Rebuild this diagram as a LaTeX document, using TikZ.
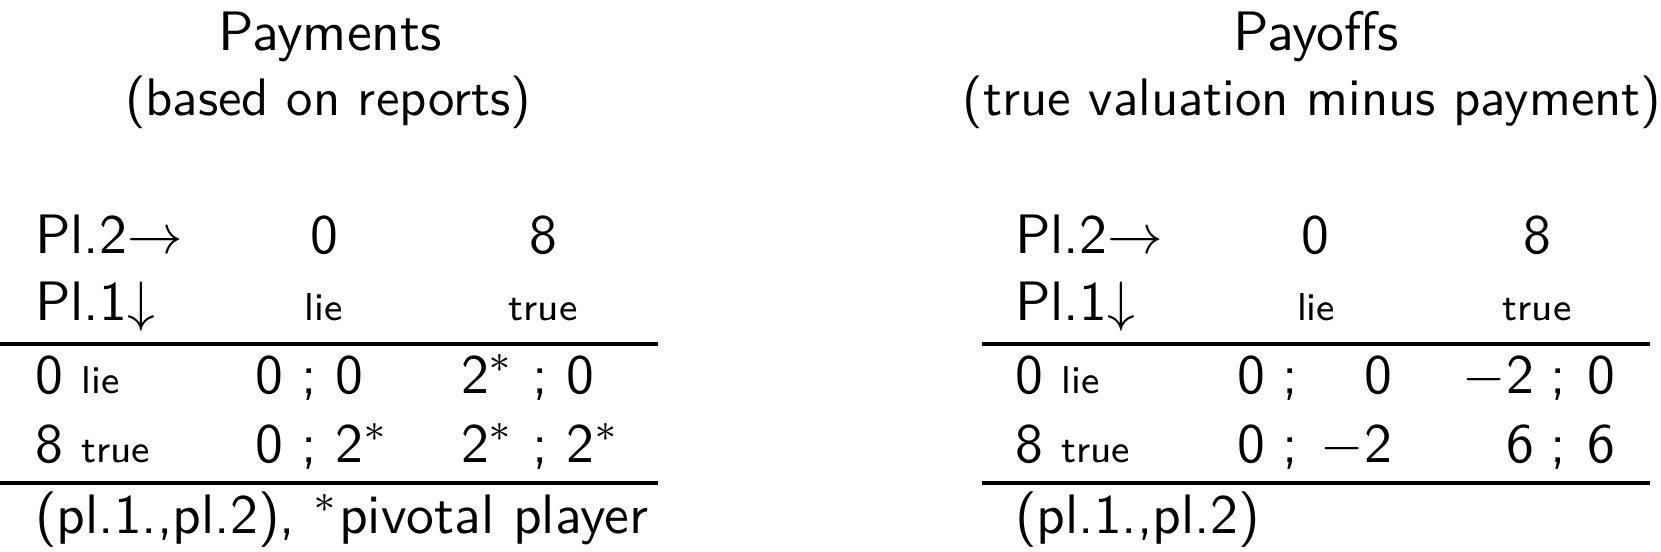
\documentclass[tikz,border=0pt]{standalone}
\usepackage{amsmath}
\usepackage{amssymb}
\usepackage{tikz}

\begin{document}
\begin{tikzpicture}[x=0.18pt,y=-0.18pt,
        every node/.style={font=\sffamily,inner sep=0pt},
        lbl/.style={anchor=base west},
        num/.style={anchor=base},
        rnum/.style={anchor=base east},
        sub/.style={anchor=base,font=\sffamily\fontsize{9.5}{11}\selectfont},
        sml/.style={anchor=base,font=\sffamily\scriptsize},
        rule/.style={line width=0.72pt}]
                \useasboundingbox (0,0) rectangle (1661,551);
                % titles
                \node [num] (ttlA) at (330,50) {Payments};
                \node [sub] (subA) at (328,115) {(based on reports)};
                \node [num] (ttlB) at (1316,50) {Payoffs};
                \node [sub] (subB) at (1312,115) {(true valuation minus payment)};
                % payments
                \node [lbl] (plA2) at (34,253) {Pl.2$\rightarrow$};
                \node [lbl] (plA1) at (34,320) {Pl.1$\downarrow$};
                \node [num] (colA0) at (324,253) {0};
                \node [num] (colA8) at (543,253) {8};
                \node [sml] (colAl) at (324,320) {lie};
                \node [sml] (colAt) at (543,320) {true};
                \node [lbl] (rowA0) at (34,393) {0 {\scriptsize lie}};
                \node [lbl] (rowA8) at (34,462) {8 {\scriptsize true}};
                \node [lbl] (pA00) at (254,393) {0 ; 0};
                \node [lbl] (pA08) at (460,393) {2$^*$ ; 0};
                \node [lbl] (pA80) at (254,462) {0 ; 2$^*$};
                \node [lbl] (pA88) at (460,462) {2$^*$ ; 2$^*$};
                \node [lbl] (ftA) at (34,533) {(pl.1.,pl.2), $^*$pivotal player};
                \coordinate (tA1) at (0,344);
                \coordinate (tA2) at (658,344);
                \coordinate (bA1) at (0,483);
                \coordinate (bA2) at (658,483);
                \draw [rule] (tA1) -- (tA2);
                \draw [rule] (bA1) -- (bA2);
                % payoffs
                \node [lbl] (plB2) at (1014,253) {Pl.2$\rightarrow$};
                \node [lbl] (plB1) at (1014,320) {Pl.1$\downarrow$};
                \node [num] (colB0) at (1315,253) {0};
                \node [num] (colB8) at (1537,253) {8};
                \node [sml] (colBl) at (1316,320) {lie};
                \node [sml] (colBt) at (1537,320) {true};
                \node [lbl] (rowB0) at (1014,393) {0 {\scriptsize lie}};
                \node [lbl] (rowB8) at (1014,462) {8 {\scriptsize true}};
                \node [rnum] (qB00a) at (1266,393) {0};
                \node [num] (sB00) at (1290,393) {;};
                \node [rnum] (qB00b) at (1393,393) {0};
                \node [rnum] (qB08a) at (1535,393) {$-$2};
                \node [num] (sB08) at (1558,393) {;};
                \node [rnum] (qB08b) at (1616,393) {0};
                \node [rnum] (qB80a) at (1266,462) {0};
                \node [num] (sB80) at (1290,462) {;};
                \node [rnum] (qB80b) at (1393,462) {$-$2};
                \node [rnum] (qB88a) at (1535,462) {6};
                \node [num] (sB88) at (1558,462) {;};
                \node [rnum] (qB88b) at (1616,462) {6};
                \node [lbl] (ftB) at (1014,533) {(pl.1.,pl.2)};
                \coordinate (tB1) at (982,344);
                \coordinate (tB2) at (1650,344);
                \coordinate (bB1) at (982,483);
                \coordinate (bB2) at (1650,483);
                \draw [rule] (tB1) -- (tB2);
                \draw [rule] (bB1) -- (bB2);
            \end{tikzpicture}
\end{document}
